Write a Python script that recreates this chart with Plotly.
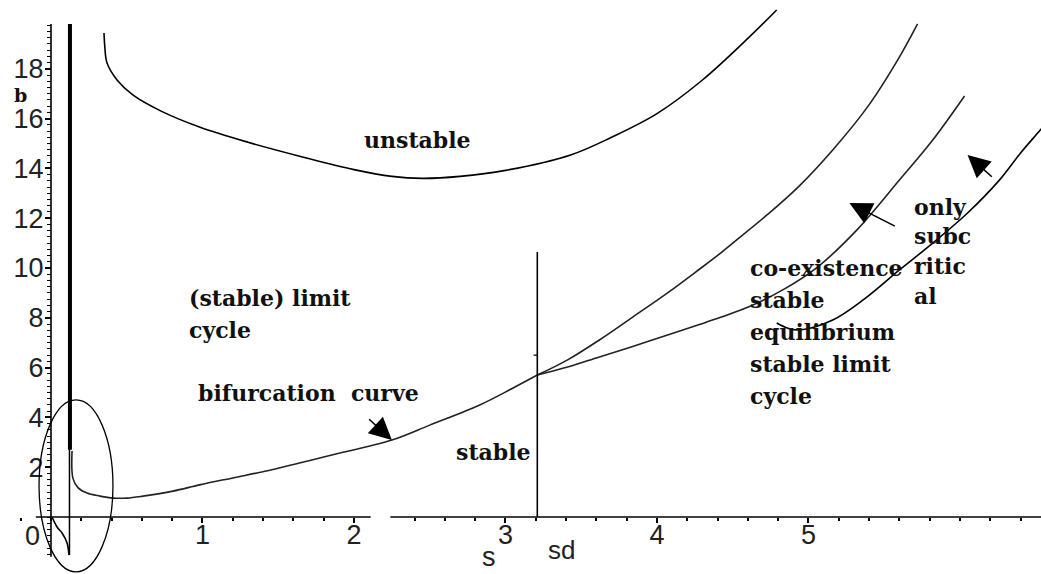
import numpy as np
import plotly.graph_objects as go

# ---------------- data ----------------
# upper "unstable" boundary (U-shaped curve)
unstable_s = [0.35, 0.355, 0.37, 0.436, 0.54, 0.72, 0.98, 1.30, 1.66, 2.00, 2.25, 2.45, 2.70, 3.00, 3.43, 3.70, 4.00, 4.30, 4.61, 4.79]
unstable_b = [19.44, 18.90, 18.23, 17.55, 16.95, 16.32, 15.66, 15.05, 14.46, 13.95, 13.68, 13.60, 13.68, 13.92, 14.54, 15.25, 16.20, 17.55, 19.28, 20.36]

# bifurcation curve (right of the asymptote, up to sd)
bif_s = [0.139, 0.145, 0.178, 0.238, 0.323, 0.41, 0.50, 0.607, 0.805, 0.98, 1.20, 1.43, 1.64, 1.84, 2.25, 2.50, 2.83, 3.05, 3.21]
bif_b = [2.65, 1.55, 1.18, 0.96, 0.84, 0.76, 0.76, 0.84, 1.04, 1.29, 1.57, 1.86, 2.17, 2.47, 3.09, 3.69, 4.50, 5.18, 5.70]

# upper branch after sd
upper_s = [3.21, 3.41, 3.62, 3.84, 4.07, 4.28, 4.42, 4.50, 4.73, 4.94, 5.16, 5.39, 5.60, 5.72]
upper_b = [5.70, 6.31, 7.11, 8.03, 9.00, 9.95, 10.60, 11.00, 12.15, 13.30, 14.74, 16.47, 18.47, 19.80]

# lower branch after sd
lower_s = [3.21, 3.41, 3.62, 3.84, 4.07, 4.28, 4.42, 4.61, 4.83, 5.06, 5.32, 5.60, 5.82, 6.03]
lower_b = [5.70, 6.02, 6.43, 6.85, 7.31, 7.73, 8.02, 8.45, 9.12, 10.04, 11.53, 13.53, 15.14, 16.91]

# subcritical boundary (solid curve at the right)
sub_s = [4.79, 4.86, 4.94, 5.16, 5.37, 5.60, 5.82, 6.05, 6.26, 6.40, 6.53, 6.60]
sub_b = [7.79, 7.59, 7.51, 7.91, 8.76, 9.92, 11.00, 12.21, 13.53, 14.62, 15.54, 16.05]

# left branch dipping below the axis
dip_s = [0.007, 0.04, 0.073, 0.106, 0.119]
dip_b = [0.0, -0.40, -0.64, -1.04, -1.53]

# vertical asymptote
asym_s = [0.122, 0.122]
asym_b = [-1.53, 19.80]
asym_thick_s = [0.125, 0.125]
asym_thick_b = [2.70, 19.80]

# vertical line at sd
sd_s = [3.21, 3.21]
sd_b = [0.0, 10.64]

# highlighted region (ellipse): extent in s and b
ellipse_s = [0.165 - 0.244, 0.165 + 0.244]
ellipse_b = [1.25 - 3.45, 1.25 + 3.45]

# axes
x_tick_vals = [0, 1, 2, 3, 4, 5]
x_tick_text = ["", "1", "2", "3", "4", "5"]
x_minor_vals = [round(v, 2) for v in np.arange(-0.2, 6.5, 0.2) if not (2.1 < v < 2.3)]
y_tick_vals = [0, 2, 4, 6, 8, 10, 12, 14, 16, 18]
y_tick_text = ["", "2", "4", "6", "8", "10", "12", "14", "16", "18"]
y_minor_vals = [round(v, 2) for v in np.arange(-1.5, 19.8, 0.25)]

# ---------------- figure ----------------
TICK_FONT = dict(family="Liberation Sans", size=27, color="#222")
LBL_FONT = dict(family="DejaVu Serif", size=22, color="#111", weight="bold")

fig = go.Figure()

line_black = dict(color="black", width=1.6)
line_dash = dict(color="#222", width=1.6)

fig.add_trace(go.Scatter(x=unstable_s, y=unstable_b, mode="lines", line=dict(line_black, shape="spline")))
fig.add_trace(go.Scatter(x=bif_s, y=bif_b, mode="lines", line=dict(line_dash, shape="spline")))
fig.add_trace(go.Scatter(x=upper_s, y=upper_b, mode="lines", line=dict(line_dash, shape="spline")))
fig.add_trace(go.Scatter(x=lower_s, y=lower_b, mode="lines", line=dict(line_dash, shape="spline")))
fig.add_trace(go.Scatter(x=sub_s, y=sub_b, mode="lines", line=dict(line_black, shape="spline")))
fig.add_trace(go.Scatter(x=dip_s, y=dip_b, mode="lines", line=dict(line_black, shape="spline")))
fig.add_trace(go.Scatter(x=asym_s, y=asym_b, mode="lines", line=dict(color="black", width=1.5)))
fig.add_trace(go.Scatter(x=asym_thick_s, y=asym_thick_b, mode="lines", line=dict(color="black", width=4)))
fig.add_trace(go.Scatter(x=sd_s, y=sd_b, mode="lines", line=dict(color="black", width=1.6)))

shapes = [
    # axis lines (x axis broken between 2.1 and 2.25)
    dict(type="line", xref="x", yref="y", x0=-0.1, x1=2.11, y0=0, y1=0, line=dict(color="black", width=1.6)),
    dict(type="line", xref="x", yref="y", x0=2.24, x1=6.6, y0=0, y1=0, line=dict(color="black", width=1.6)),
    dict(type="line", xref="x", yref="y", x0=0, x1=0, y0=-1.6, y1=19.8, line=dict(color="black", width=1.6)),
    # ellipse
    dict(type="circle", xref="x", yref="y", x0=ellipse_s[0], x1=ellipse_s[1], y0=ellipse_b[0], y1=ellipse_b[1],
         line=dict(color="black", width=1.3)),
    # small mark on sd line
    dict(type="line", xref="x", yref="y", x0=3.185, x1=3.21, y0=6.5, y1=6.5, line=dict(color="black", width=1.2)),
]

def lbl(text, s, b, size=22):
    f = dict(LBL_FONT)
    f["size"] = size
    return dict(text=text, x=s, y=b, xref="x", yref="y", showarrow=False,
                xanchor="left", yanchor="middle", font=f)

annotations = [
    lbl("unstable", 2.05, 15.14),
    lbl("(stable) limit", 0.90, 8.80),
    lbl("cycle", 0.90, 7.51),
    lbl("bifurcation  curve", 0.96, 4.98),
    lbl("stable", 2.66, 2.61),
    lbl("co-existence", 4.60, 10.0),
    lbl("stable", 4.60, 8.71),
    lbl("equilibrium", 4.60, 7.43),
    lbl("stable limit", 4.60, 6.14),
    lbl("cycle", 4.60, 4.86),
    lbl("only", 5.68, 12.45),
    lbl("subc", 5.68, 11.29),
    lbl("ritic", 5.68, 10.08),
    lbl("al", 5.68, 8.88),
    lbl("b", -0.26, 16.95, size=19),
    # axis texts
    dict(text="0", x=-0.12, y=-0.76, xref="x", yref="y", showarrow=False, font=TICK_FONT),
    dict(text="s", x=2.89, y=-1.62, xref="x", yref="y", showarrow=False, font=TICK_FONT),
    dict(text="sd", x=3.37, y=-1.33, xref="x", yref="y", showarrow=False, font=dict(TICK_FONT, size=26)),
]

# arrows (head -> tail)
for hx, hy, tx, ty in [(2.25, 3.09, 2.09, 3.98), (5.27, 12.61, 5.58, 11.65), (6.05, 14.54, 6.22, 13.61)]:
    annotations.append(dict(x=hx, y=hy, ax=tx, ay=ty, xref="x", yref="y", axref="x", ayref="y",
                            text="", showarrow=True, arrowhead=2, arrowsize=2.8, arrowwidth=1.6,
                            arrowcolor="black", standoff=0))

fig.update_layout(
    width=1041, height=574,
    margin=dict(l=0, r=0, t=0, b=0),
    paper_bgcolor="white", plot_bgcolor="white",
    showlegend=False,
    shapes=shapes, annotations=annotations,
    xaxis=dict(range=[-0.3366, 6.5347], anchor="free", position=57 / 574,
               showgrid=False, zeroline=False, showline=False,
               tickmode="array", tickvals=x_tick_vals, ticktext=x_tick_text,
               ticks="outside", ticklen=5, tickwidth=1.5, tickcolor="black",
               tickfont=TICK_FONT, ticklabelstandoff=-11,
               minor=dict(tickmode="array", tickvals=x_minor_vals, ticks="outside",
                          ticklen=3, tickwidth=1.5, tickcolor="black", showgrid=False)),
    yaxis=dict(range=[-2.289, 20.763], anchor="free", position=51 / 1041,
               showgrid=False, zeroline=False, showline=False,
               tickmode="array", tickvals=y_tick_vals, ticktext=y_tick_text,
               ticks="outside", ticklen=6, tickwidth=1.5, tickcolor="black",
               tickfont=TICK_FONT, ticklabelstandoff=-4,
               minor=dict(tickmode="array", tickvals=y_minor_vals, ticks="outside",
                          ticklen=4, tickwidth=1.2, tickcolor="black", showgrid=False)),
)

fig.write_html("out.html")
